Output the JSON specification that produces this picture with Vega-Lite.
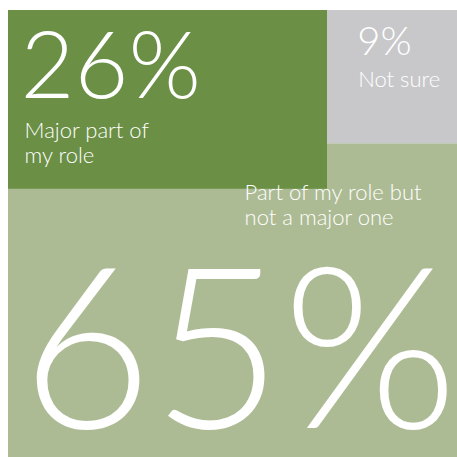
{
  "$schema": "https://vega.github.io/schema/vega-lite/v6.json",
  "width": 457,
  "height": 457,
  "autosize": {"type": "fit", "contains": "padding"},
  "padding": {"left": 8, "top": 10, "right": 0, "bottom": 0},
  "background": "white",
  "view": {"stroke": null},
  "config": {"font": "Lato"},
  "datasets": {
    "cells": [
      {"response": "Part of my role but not a major one", "share": 0.65, "x0": 0, "x1": 100, "y0": 29.8, "y1": 100, "vx": 3.0, "vy": 93.5},
      {"response": "Major part of my role", "share": 0.26, "x0": 0, "x1": 71.05, "y0": 0, "y1": 40.0, "vx": 2.8, "vy": 19.6},
      {"response": "Not sure", "share": 0.09, "x0": 71.05, "x1": 100, "y0": 0, "y1": 29.8, "vx": 77.8, "vy": 10.1}
    ],
    "captions": [
      {"line": "Major part of", "x": 3.7, "y": 28.6},
      {"line": "my role", "x": 3.7, "y": 34.2},
      {"line": "Not sure", "x": 78.0, "y": 17.3},
      {"line": "Part of my role but", "x": 52.7, "y": 42.5},
      {"line": "not a major one", "x": 52.7, "y": 48.1}
    ]
  },
  "layer": [
    {
      "data": {"name": "cells"},
      "mark": {"type": "rect", "strokeWidth": 0},
      "encoding": {
        "x": {"field": "x0", "type": "quantitative", "scale": {"domain": [0, 100], "nice": false, "zero": false}, "axis": null},
        "x2": {"field": "x1"},
        "y": {"field": "y0", "type": "quantitative", "scale": {"domain": [0, 100], "nice": false, "zero": false, "reverse": true}, "axis": null},
        "y2": {"field": "y1"},
        "color": {
          "field": "response", "type": "nominal", "legend": null,
          "scale": {
            "domain": ["Part of my role but not a major one", "Major part of my role", "Not sure"],
            "range": ["#adbb94", "#6a8f45", "#c8c8ca"]
          }
        }
      }
    },
    {
      "data": {"name": "cells"},
      "mark": {"type": "text", "align": "left", "baseline": "alphabetic", "color": "white", "fontWeight": 300, "clip": true},
      "encoding": {
        "x": {"field": "vx", "type": "quantitative"},
        "y": {"field": "vy", "type": "quantitative"},
        "text": {"field": "share", "type": "quantitative", "format": ".0%"},
        "size": {"field": "share", "type": "quantitative", "legend": null, "scale": {"domain": [0.09, 0.26, 0.65], "range": [40, 93, 225], "zero": false}}
      }
    },
    {
      "data": {"name": "captions"},
      "mark": {"type": "text", "align": "left", "baseline": "alphabetic", "color": "white", "fontSize": 22, "fontWeight": 300, "clip": true},
      "encoding": {
        "x": {"field": "x", "type": "quantitative"},
        "y": {"field": "y", "type": "quantitative"},
        "text": {"field": "line", "type": "nominal"}
      }
    }
  ]
}
